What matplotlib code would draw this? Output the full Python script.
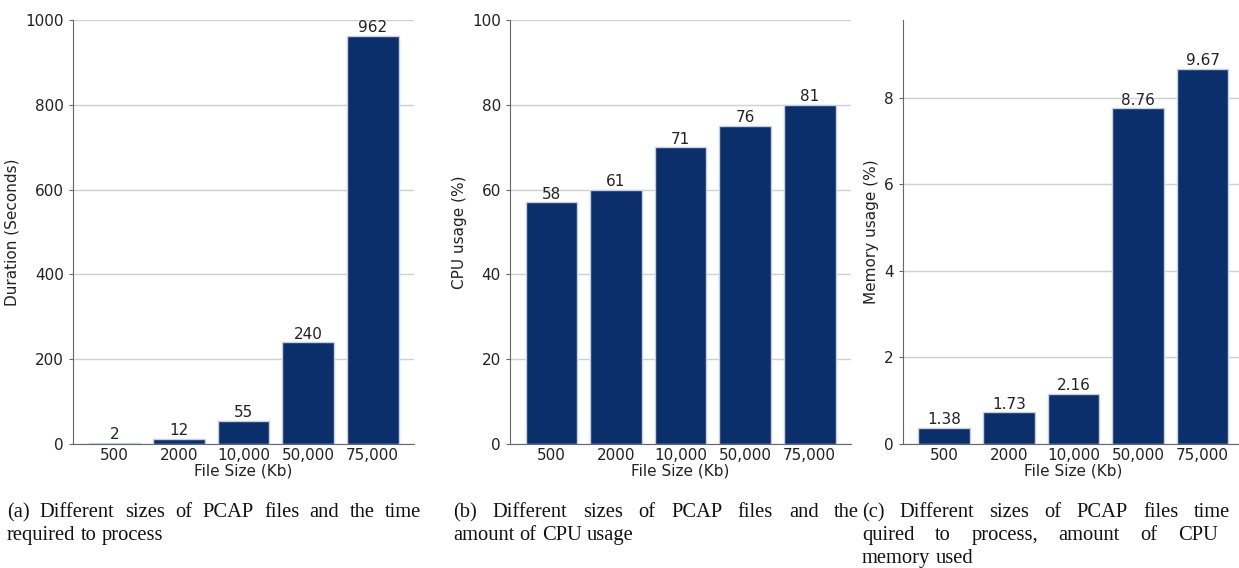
import matplotlib
matplotlib.use('Agg')
import matplotlib.pyplot as plt

plt.rcParams['font.family'] = ['DejaVu Sans']

# data
file_sizes = ['500', '2000', '10,000', '50,000', '75,000']

duration_bars = [2, 12, 55, 240, 962]
duration_labels = ['2', '12', '55', '240', '962']

cpu_bars = [57, 60, 70, 75, 80]
cpu_labels = ['58', '61', '71', '76', '81']

mem_bars = [0.38, 0.73, 1.16, 7.76, 8.67]
mem_labels = ['1.38', '1.73', '2.16', '8.76', '9.67']

captions = [
    ['(a) Different sizes of PCAP files and the time', 'required to process'],
    ['(b) Different sizes of PCAP files and the', 'amount of CPU usage'],
    ['(c) Different sizes of PCAP files time re-',
     'quired to process, amount of CPU and', 'memory used'],
]

BAR = '#0b2f6a'
EDGE = '#c8d0e0'
TXT = '#222222'
FS = 11
W, H = 1239, 568

fig = plt.figure(figsize=(W / 100, H / 100), dpi=100)


def _panel(left_px, bars, labels, ylabel, ylim, yticks):
    ax = fig.add_axes([left_px / W, 1 - 444 / H, 341 / W, 424 / H])
    ax.bar(file_sizes, bars, width=0.8, color=BAR, edgecolor=EDGE,
           linewidth=1, zorder=3)
    for i, (v, t) in enumerate(zip(bars, labels)):
        ax.annotate(t, (i, v), xytext=(0, 0.5), textcoords='offset points',
                    ha='center', va='bottom', fontsize=FS, color=TXT)
    ax.set_ylim(*ylim)
    ax.set_yticks(yticks)
    ax.grid(axis='y', color='#d0d0d0', linewidth=1, zorder=0)
    ax.set_axisbelow(True)
    for s in ('top', 'right'):
        ax.spines[s].set_visible(False)
    for s in ('left', 'bottom'):
        ax.spines[s].set_color('#666666')
    ax.tick_params(axis='x', length=0, labelsize=FS, pad=3, labelcolor=TXT)
    ax.tick_params(axis='y', length=3, labelsize=FS, color='#666666',
                   labelcolor=TXT)
    ax.set_xlabel('File Size (Kb)', fontsize=FS, labelpad=0, color=TXT)
    ax.set_ylabel(ylabel, fontsize=FS, color=TXT)
    return ax


_panel(73, duration_bars, duration_labels, 'Duration (Seconds)',
       (0, 1000), range(0, 1001, 200))
_panel(510, cpu_bars, cpu_labels, 'CPU usage (%)', (0, 100), range(0, 101, 20))
_panel(903, mem_bars, mem_labels, 'Memory usage (%)', (0, 9.8), range(0, 9, 2))


# captions, justified like the paper
renderer = fig.canvas.get_renderer()
CAP_FS = 14.8


def _justified(line, x0, y, width, justify):
    words = line.split(' ')
    texts = [fig.text(0, 0, w, fontsize=CAP_FS, family='Liberation Serif',
                      va='baseline', ha='left', color='#111111') for w in words]
    widths = [t.get_window_extent(renderer).width for t in texts]
    if justify and len(words) > 1:
        gap = (width - sum(widths)) / (len(words) - 1)
    else:
        gap = CAP_FS * 100 / 72 * 0.25
    x = x0
    for t, w in zip(texts, widths):
        t.set_position((x / W, 1 - y / H))
        x += w + gap


cap_x = [7, 453, 862]
cap_w = [414, 406, 406]
line_y = [517, 540, 563]
for cx, cw, lines in zip(cap_x, cap_w, captions):
    for k, line in enumerate(lines):
        _justified(line, cx, line_y[k], cw, justify=(k < len(lines) - 1))

fig.savefig('out.png', dpi=100)
